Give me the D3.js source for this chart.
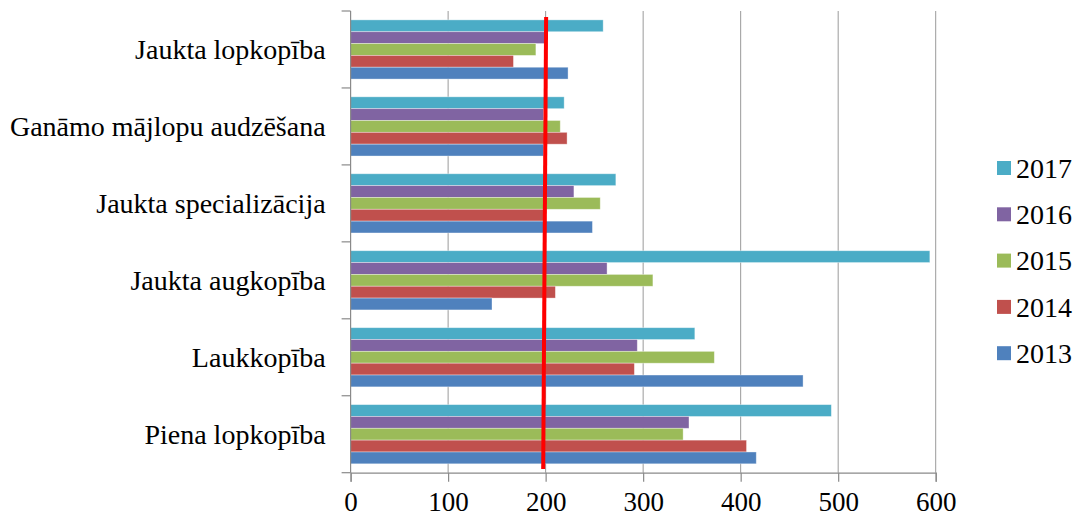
<!DOCTYPE html>
<html>
<head>
<meta charset="utf-8">
<script src="https://cdn.jsdelivr.net/npm/d3@7"></script>
<style>
  html, body { margin: 0; padding: 0; background: #fff; }
  svg { display: block; }
</style>
</head>
<body>
<svg id="chart" width="1075" height="517"></svg>
<script>
// Farm types, listed top to bottom
const categories = [
  "Jaukta lopkopība",
  "Ganāmo mājlopu audzēšana",
  "Jaukta specializācija",
  "Jaukta augkopība",
  "Laukkopība",
  "Piena lopkopība"
];

// Years, in the order they are stacked inside each group (top first)
const years = ["2017", "2016", "2015", "2014", "2013"];

// Values per year, same order as categories
const values2013 = [223, 198, 248, 145, 464, 416];
const values2014 = [167, 222, 198, 210, 291, 406];
const values2015 = [190, 215, 256, 310, 373, 341];
const values2016 = [199, 198, 229, 263, 294, 347];
const values2017 = [259, 219, 272, 594, 353, 493];

const xTicks = [0, 100, 200, 300, 400, 500, 600];

// Reference line around the 200 level (top and bottom ends)
const refLineTop = 200.5;
const refLineBottom = 197.5;

const seriesColors = {
  "2013": "#4F81BD",
  "2014": "#C0504D",
  "2015": "#9BBB59",
  "2016": "#8064A2",
  "2017": "#4BACC6"
};

const seriesValues = {
  "2013": values2013,
  "2014": values2014,
  "2015": values2015,
  "2016": values2016,
  "2017": values2017
};

const FONT = '"Liberation Serif", "Times New Roman", serif';

const svg = d3.select("#chart");

const plot = { left: 350.6, right: 935.7, top: 11, bottom: 472.7 };

const x = d3.scaleLinear().domain([0, 600]).range([plot.left, plot.right]);
const y = d3.scaleBand().domain(categories).range([plot.top, plot.bottom]).padding(0);

const bw = y.bandwidth();
const gapHalf = bw * (1.5 / 6.5) / 2;
const ySub = d3.scaleBand().domain(years).range([gapHalf, bw - gapHalf]).padding(0);

// Vertical gridlines
svg.append("g")
  .selectAll("line")
  .data(xTicks.filter(d => d > 0))
  .join("line")
  .attr("x1", d => x(d)).attr("x2", d => x(d))
  .attr("y1", plot.top).attr("y2", plot.bottom)
  .attr("stroke", "#9a9a9a")
  .attr("stroke-width", 1);

// Bars
const rows = [];
categories.forEach((c, i) => {
  years.forEach(yr => rows.push({ cat: c, year: yr, value: seriesValues[yr][i] }));
});

svg.append("g")
  .selectAll("rect")
  .data(rows)
  .join("rect")
  .attr("x", x(0))
  .attr("y", d => y(d.cat) + ySub(d.year))
  .attr("width", d => x(d.value) - x(0))
  .attr("height", ySub.bandwidth())
  .attr("fill", d => seriesColors[d.year])
  .attr("stroke", "rgba(255,255,255,0.45)")
  .attr("stroke-width", 0.8);

// Bottom axis
const xAxis = svg.append("g")
  .attr("transform", `translate(0,${plot.bottom})`)
  .attr("font-family", FONT)
  .call(d3.axisBottom(x).tickValues(xTicks).tickSize(9).tickPadding(0).tickFormat(d3.format("d")));
xAxis.attr("font-family", FONT).attr("font-size", 27);
xAxis.select(".domain").attr("stroke", "#8a8a8a").attr("stroke-width", 1.2);
xAxis.selectAll(".tick line").attr("stroke", "#8a8a8a").attr("stroke-width", 1.2);
xAxis.selectAll(".tick text")
  .attr("y", 38)
  .attr("dy", null)
  .attr("font-family", FONT)
  .style("font-family", FONT)
  .style("font-size", "27px")
  .attr("fill", "#000");

// Left axis with ticks at group boundaries
const leftAxis = svg.append("g");
leftAxis.append("line")
  .attr("x1", plot.left).attr("x2", plot.left)
  .attr("y1", plot.top).attr("y2", plot.bottom)
  .attr("stroke", "#8a8a8a").attr("stroke-width", 1.2);
const boundaries = categories.map(c => y(c)).concat([plot.bottom]);
leftAxis.selectAll("line.tk")
  .data(boundaries)
  .join("line")
  .attr("class", "tk")
  .attr("x1", plot.left - 9).attr("x2", plot.left)
  .attr("y1", d => d).attr("y2", d => d)
  .attr("stroke", "#8a8a8a").attr("stroke-width", 1.2);
leftAxis.selectAll("text")
  .data(categories)
  .join("text")
  .attr("x", plot.left - 25)
  .attr("y", d => y(d) + bw / 2)
  .attr("dy", "0.35em")
  .attr("text-anchor", "end")
  .attr("font-family", FONT)
  .attr("font-size", 28)
  .attr("fill", "#000")
  .text(d => d);

// Red reference line
svg.append("line")
  .attr("x1", x(refLineTop)).attr("y1", 17)
  .attr("x2", x(refLineBottom)).attr("y2", 469)
  .attr("stroke", "#ff0000")
  .attr("stroke-width", 4);

// Legend
const legendYears = ["2017", "2016", "2015", "2014", "2013"];
const legend = svg.append("g");
const lg = legend.selectAll("g")
  .data(legendYears)
  .join("g")
  .attr("transform", (d, i) => `translate(997,${168 + i * 46.3})`);
lg.append("rect")
  .attr("x", 0).attr("y", -7)
  .attr("width", 14).attr("height", 14)
  .attr("fill", d => seriesColors[d]);
lg.append("text")
  .attr("x", 19).attr("y", 0)
  .attr("dy", "0.35em")
  .attr("font-family", FONT)
  .attr("font-size", 28)
  .attr("fill", "#000")
  .text(d => d);
</script>
</body>
</html>
